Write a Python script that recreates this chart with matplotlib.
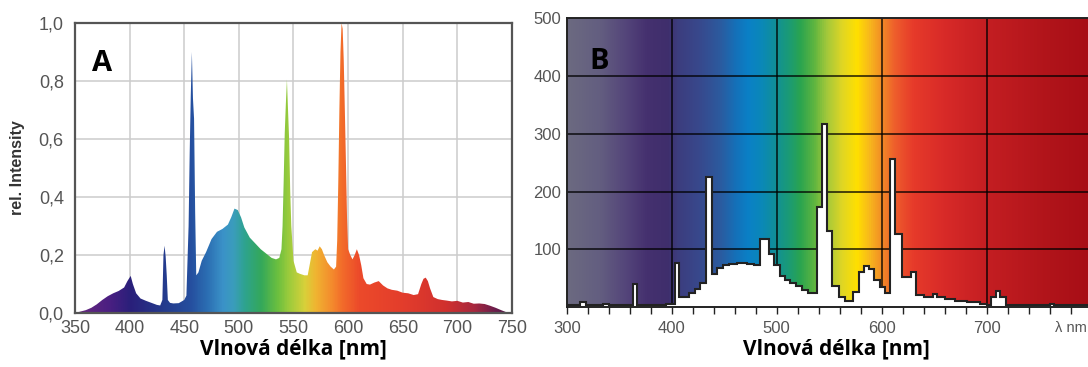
import matplotlib
matplotlib.use("Agg")
import matplotlib.pyplot as plt
import numpy as np
from matplotlib.colors import LinearSegmentedColormap, Normalize

# --- A: relative intensity spectrum ---
wl_a = [350, 355, 360, 365, 370, 375, 380, 385, 390, 395, 398, 401, 403, 406, 410,
        415, 420, 425, 428, 430, 431, 432, 433, 434, 435, 437, 440, 445, 450, 452,
        454, 455, 456, 457, 458, 459, 460, 461, 463, 466, 470, 475, 480, 485, 490,
        493, 496, 499, 502, 505, 510, 515, 520, 525, 530, 534, 537, 539, 540, 541,
        542, 543, 544, 545, 546, 547, 548, 550, 553, 556, 560, 563, 565, 567, 570,
        572, 574, 576, 578, 581, 584, 587, 589, 590, 591, 592, 593, 594, 595, 596,
        597, 598, 599, 600, 602, 604, 606, 608, 610, 612, 614, 617, 620, 624, 628,
        632, 636, 640, 645, 650, 655, 660, 664, 667, 669, 671, 673, 675, 678, 682,
        686, 690, 695, 700, 705, 710, 715, 720, 725, 730, 735, 740, 744, 746]
int_a = [0.0, 0.005, 0.01, 0.018, 0.03, 0.045, 0.058, 0.068, 0.076, 0.088, 0.11, 0.128, 0.1, 0.068, 0.05,
         0.042, 0.035, 0.028, 0.026, 0.045, 0.2, 0.232, 0.195, 0.13, 0.045, 0.035, 0.033, 0.034, 0.045, 0.06,
         0.3, 0.55, 0.75, 0.9, 0.74, 0.67, 0.35, 0.13, 0.14, 0.18, 0.21, 0.255, 0.28, 0.29, 0.305,
         0.33, 0.36, 0.355, 0.33, 0.295, 0.26, 0.24, 0.22, 0.205, 0.19, 0.185, 0.19, 0.22, 0.3, 0.45,
         0.62, 0.72, 0.805, 0.7, 0.6, 0.42, 0.3, 0.18, 0.14, 0.135, 0.13, 0.13, 0.17, 0.21, 0.22,
         0.215, 0.23, 0.22, 0.2, 0.175, 0.16, 0.15, 0.16, 0.25, 0.45, 0.7, 0.9, 1.0, 0.98, 0.87,
         0.7, 0.52, 0.33, 0.22, 0.2, 0.185, 0.2, 0.22, 0.2, 0.165, 0.12, 0.1, 0.098, 0.105, 0.11,
         0.095, 0.085, 0.08, 0.077, 0.07, 0.068, 0.062, 0.065, 0.1, 0.118, 0.122, 0.11, 0.085, 0.055, 0.048,
         0.045, 0.043, 0.04, 0.042, 0.036, 0.038, 0.032, 0.033, 0.031, 0.025, 0.018, 0.01, 0.004, 0.0]

# --- B: step spectrum (bin edges and heights) ---
edges_b = [300, 313, 318, 335, 340, 363, 367, 395, 403, 407, 416, 422, 427, 433, 438,
           443, 449, 455, 462, 472, 478, 484, 493, 497, 503, 508, 513, 518, 524, 530,
           538, 543, 548, 553, 559, 565, 573, 578, 583, 588, 593, 598, 603, 608, 613,
           619, 628, 633, 640, 649, 653, 660, 670, 681, 694, 700, 704, 709, 713, 718,
           760, 764, 797]
vals_b = [3, 9, 3, 5, 3, 40, 4, 6, 76, 18, 24, 32, 41, 226,
          58, 67, 72, 74, 76, 75, 73, 117, 92, 73, 54, 47, 42, 36, 30,
          25, 173, 318, 132, 36, 18, 11, 26, 61, 71, 66, 47, 35, 25, 256,
          127, 52, 61, 21, 18, 23, 17, 13, 10, 9, 6, 3, 18, 28, 18,
          3, 5, 3]

xticks_a = [350, 400, 450, 500, 550, 600, 650, 700, 750]
yticks_a = [0.0, 0.2, 0.4, 0.6, 0.8, 1.0]
yticks_b = [100, 200, 300, 400, 500]
xlabels_b = {300: "300", 400: "400", 500: "500", 600: "600", 700: "700", 780: "λ nm"}

# colour along the wavelength axis
cols_a = [(350, "#6a2a7e"), (380, "#4b1f82"), (400, "#2a1f7a"), (430, "#243a8c"),
          (455, "#254e9e"), (470, "#2b6db2"), (485, "#3b92c8"), (495, "#3a9dbb"),
          (505, "#2ea38e"), (520, "#34a85a"), (535, "#6bbf3f"), (545, "#9acb3c"),
          (560, "#d8d13a"), (570, "#f0b431"), (585, "#f48a2d"), (595, "#f26a2a"),
          (610, "#ec4a2a"), (650, "#e33d2c"), (690, "#d0302e"), (715, "#a8283e"),
          (735, "#6a1d4c"), (750, "#4a1745")]
cols_b = [(300, "#6c6a80"), (330, "#635e80"), (355, "#54457a"), (375, "#45316f"),
          (395, "#3f2e6c"), (405, "#3c3d7e"), (425, "#38488c"), (445, "#2c5a9e"),
          (460, "#1570b8"), (472, "#0a80c6"), (485, "#0b88b8"), (497, "#108f9a"),
          (510, "#1a9a78"), (522, "#2aa450"), (535, "#5eb540"), (548, "#a6c93a"),
          (562, "#e0d624"), (576, "#ffe000"), (588, "#f8b81c"), (600, "#f28a26"),
          (612, "#ee5e2c"), (630, "#e63a2a"), (660, "#d82a28"), (700, "#c41e22"),
          (760, "#b0141a"), (797, "#a80e16")]


def make_cmap(anchors):
    lo, hi = anchors[0][0], anchors[-1][0]
    return LinearSegmentedColormap.from_list(
        "spec", [((w - lo) / (hi - lo), c) for w, c in anchors])


plt.rcParams["font.family"] = ["Liberation Sans", "DejaVu Sans"]
fig = plt.figure(figsize=(10.88, 3.67), dpi=100)

# ---------------- panel A ----------------
ax = fig.add_axes([0.0689, 0.1471, 0.4017, 0.7902])
ax.set_xlim(350, 750)
ax.set_ylim(0, 1.0)
poly, = ax.fill(np.r_[wl_a, wl_a[-1], wl_a[0]], np.r_[int_a, 0, 0],
                facecolor="none", edgecolor="none")
grad = np.linspace(350, 750, 1000)[np.newaxis, :]
im = ax.imshow(grad, extent=[350, 750, 0, 1], aspect="auto", origin="lower",
               cmap=make_cmap(cols_a), norm=Normalize(350, 750), zorder=2)
im.set_clip_path(poly)
ax.set_xticks(xticks_a)
ax.set_yticks(yticks_a)
ax.set_yticklabels([f"{v:.1f}".replace(".", ",") for v in yticks_a])
ax.grid(True, color="#cccccc", lw=1.1, zorder=1)
ax.set_axisbelow(True)
ax.tick_params(length=0, labelsize=13, labelcolor="#555555")
ax.tick_params(axis="y", pad=8)
ax.tick_params(axis="x", pad=5)
for s in ax.spines.values():
    s.set_color("#555555")
    s.set_linewidth(1.6)
    s.set_zorder(5)
ax.set_ylabel("rel. Intensity", fontsize=11.5, fontweight="bold", color="#333333", labelpad=10)
ax.set_xlabel("Vlnová délka [nm]", fontsize=15, fontweight="bold", family="Open Sans", labelpad=1)
ax.text(0.04, 0.91, "A", transform=ax.transAxes, fontsize=21, fontweight="bold",
        family="Open Sans", va="top", ha="left", zorder=6)

# ---------------- panel B ----------------
bx = fig.add_axes([0.5209, 0.1635, 0.4791, 0.7861])
bx.set_xlim(300, 796.5)
bx.set_ylim(0, 500)
grad_b = np.linspace(300, 797, 1000)[np.newaxis, :]
bx.imshow(grad_b, extent=[300, 797, 0, 500], aspect="auto", origin="lower",
          cmap=make_cmap(cols_b), norm=Normalize(300, 797), zorder=0)
for x in [400, 500, 600, 700]:
    bx.axvline(x, color="black", alpha=0.75, lw=1.3, zorder=1)
for y in yticks_b[:-1]:
    bx.axhline(y, color="black", alpha=0.75, lw=1.3, zorder=1)
bx.stairs(vals_b, edges_b, baseline=0, fill=True, color="white", zorder=2)
bx.stairs(vals_b, edges_b, baseline=None, color="#222222", lw=1.5, zorder=3)

ticks_b = np.arange(300, 781, 20)
bx.set_xticks(ticks_b)
bx.set_xticklabels([xlabels_b.get(t, "") for t in ticks_b])
bx.set_yticks(yticks_b)
bx.tick_params(axis="x", direction="out", length=5, width=1, color="#222222",
               labelsize=12, labelcolor="#555555", pad=5)
bx.tick_params(axis="y", length=0, labelsize=12, labelcolor="#555555", pad=4)
# unit label at the last tick, a touch smaller so it stays inside the figure
bx.get_xticklabels()[-1].set_fontsize(10.5)
bx.spines["right"].set_visible(False)
for k in ["left", "top", "bottom"]:
    bx.spines[k].set_color("#222222")
    bx.spines[k].set_linewidth(1.4)
    bx.spines[k].set_zorder(4)
bx.set_xlabel("Vlnová délka [nm]", fontsize=15, fontweight="bold", family="Open Sans")
bx.xaxis.set_label_coords(0.518, -0.108)
bx.text(0.043, 0.9, "B", transform=bx.transAxes, fontsize=21, fontweight="bold",
        family="Open Sans", va="top", ha="left", zorder=6)

fig.savefig("out.png", dpi=100)
